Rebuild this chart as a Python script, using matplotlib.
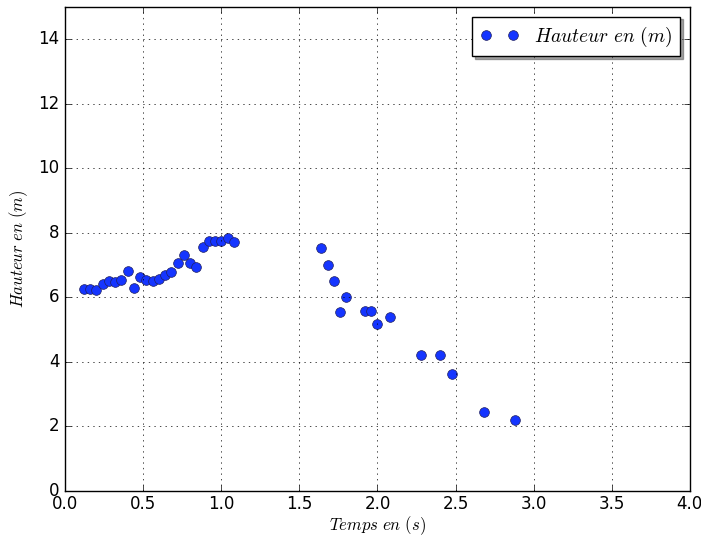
import matplotlib
matplotlib.use("Agg")
import matplotlib.pyplot as plt

plt.style.use("classic")
plt.rcParams["mathtext.fontset"] = "cm"

temps = [0.12, 0.16, 0.20, 0.24, 0.28, 0.32, 0.36, 0.40, 0.44, 0.48,
         0.52, 0.56, 0.60, 0.64, 0.68, 0.72, 0.76, 0.80, 0.84, 0.88,
         0.92, 0.96, 1.00, 1.04, 1.08,
         1.64, 1.68, 1.72, 1.76, 1.80, 1.92, 1.96, 2.00, 2.08,
         2.28, 2.40, 2.48, 2.68, 2.88]
hauteur = [6.25, 6.25, 6.22, 6.40, 6.49, 6.46, 6.55, 6.83, 6.30, 6.62,
           6.55, 6.49, 6.58, 6.68, 6.77, 7.05, 7.30, 7.05, 6.93, 7.55,
           7.76, 7.73, 7.75, 7.83, 7.72,
           7.53, 7.00, 6.52, 5.53, 6.02, 5.56, 5.58, 5.17, 5.40,
           4.21, 4.21, 3.61, 2.43, 2.21]

fig = plt.figure(figsize=(7.01, 5.37), dpi=100, facecolor="w")
ax = fig.add_axes([0.093, 0.086, 0.891, 0.901])
ax.plot(temps, hauteur, "o", color="#1535ff", markeredgecolor="#202060",
        markeredgewidth=0.5, markersize=7, label=r"$Hauteur\ en\ (m)$")
ax.set_xlim(0, 4)
ax.set_ylim(0, 15)
ax.set_xticks([0, 0.5, 1, 1.5, 2, 2.5, 3, 3.5, 4])
ax.set_yticks([0, 2, 4, 6, 8, 10, 12, 14])
ax.tick_params(axis="x", pad=3)
ax.grid(True)
ax.set_xlabel(r"$Temps\ en\ (s)$", fontsize=12, labelpad=1)
ax.set_ylabel(r"$Hauteur\ en\ (m)$", fontsize=12, labelpad=6)
ax.legend(loc="upper right", numpoints=2, shadow=True, fontsize=14,
          borderaxespad=0.5)

fig.savefig("out.png", dpi=100, facecolor="w")
